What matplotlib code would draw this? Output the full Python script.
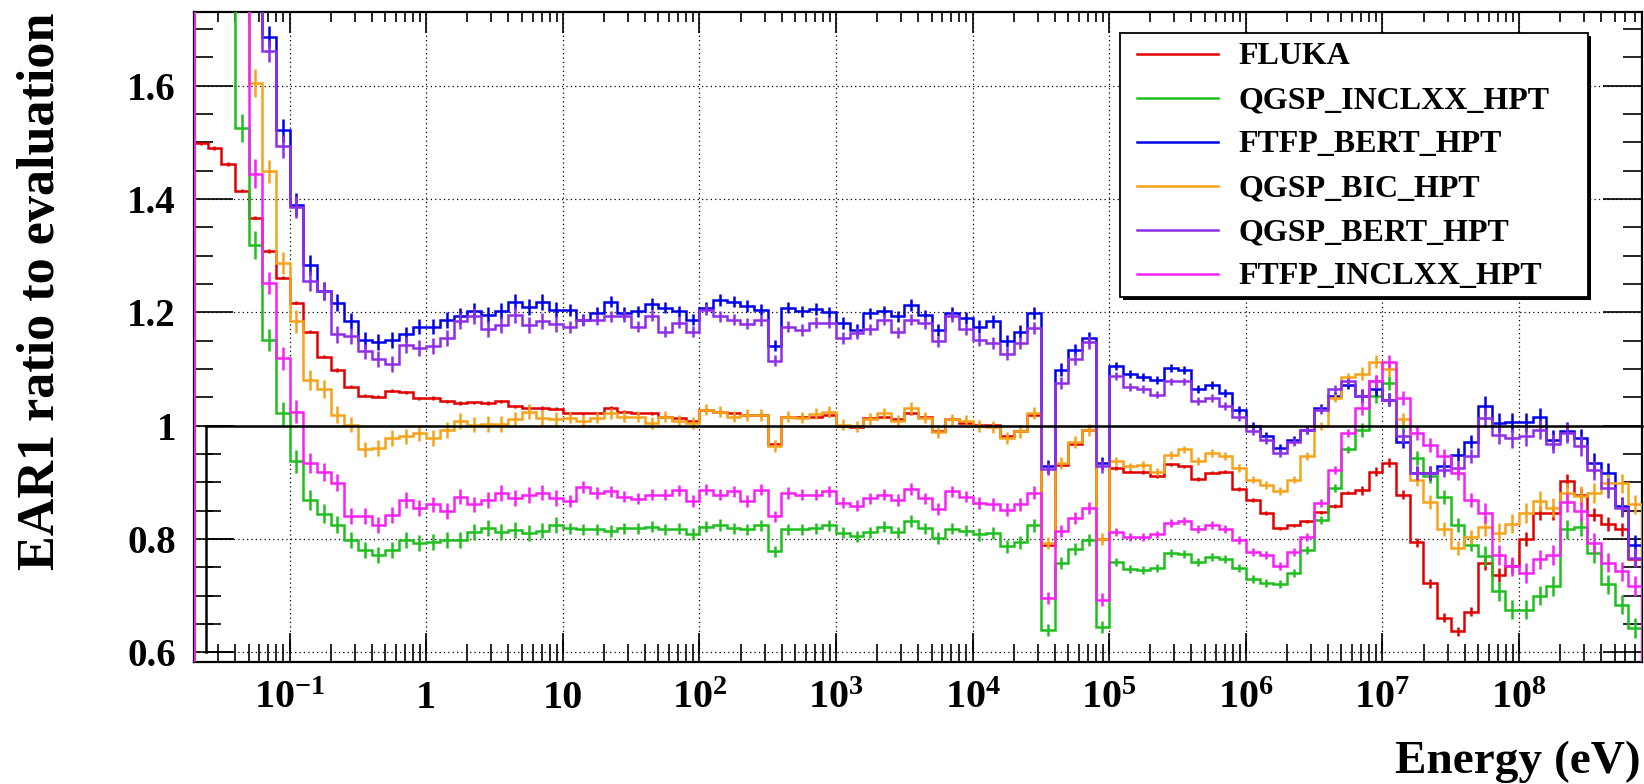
import numpy as np
import matplotlib
matplotlib.use("Agg")
import matplotlib.pyplot as plt
from matplotlib.patches import Rectangle
from matplotlib.lines import Line2D
from matplotlib.ticker import LogLocator, FixedLocator, MultipleLocator, NullFormatter
from matplotlib.transforms import blended_transform_factory

plt.rcParams['font.family'] = ['Liberation Serif', 'DejaVu Serif']
plt.rcParams['font.weight'] = 'bold'
plt.rcParams['mathtext.fontset'] = 'custom'
plt.rcParams['mathtext.rm'] = 'Liberation Serif:bold'
plt.rcParams['mathtext.it'] = 'Liberation Serif:bold'
plt.rcParams['mathtext.bf'] = 'Liberation Serif:bold'

# ---------------- data ----------------
LOG_E_MIN = -1.7          # lower edge of first bin (log10 eV)
BINS_PER_DECADE = 10
N_BINS = 106

SERIES_NAMES = ["FLUKA", "QGSP_INCLXX_HPT", "FTFP_BERT_HPT",
                "QGSP_BIC_HPT", "QGSP_BERT_HPT", "FTFP_INCLXX_HPT"]
SERIES_COLORS = ["#e00000", "#1fbf1f", "#0000e6", "#f7a21b", "#8f2ee8", "#f521f5"]

fluka = [1.498, 1.49, 1.462, 1.415, 1.367, 1.308, 1.261, 1.217, 1.166,
         1.122, 1.098, 1.069, 1.053, 1.051, 1.062, 1.059, 1.048, 1.049, 1.043,
         1.04, 1.041, 1.04, 1.043, 1.034, 1.031, 1.031, 1.03, 1.022,
         1.022, 1.022, 1.031, 1.025, 1.022, 1.022, 1.016, 1.014, 1.009, 1.028,
         1.025, 1.022, 1.019, 1.019, 0.968, 1.016, 1.016, 1.016, 1.019, 0.999,
         0.998, 1.014, 1.016, 1.011, 1.022, 1.015, 0.99, 1.012, 1.005, 1.002,
         1.002, 0.981, 0.99, 1.018, 0.79, 0.93, 0.968, 0.993, 0.80, 0.925,
         0.919, 0.918, 0.911,
         0.932, 0.928, 0.906, 0.917, 0.919, 0.888, 0.869, 0.846, 0.819, 0.824, 0.831, 0.847, 0.858,
         0.882, 0.886, 0.919, 0.935, 0.878, 0.794, 0.722, 0.661, 0.637, 0.672,
         0.758, 0.737, 0.752, 0.8, 0.846, 0.846, 0.902, 0.878, 0.843, 0.827, 0.817, 0.764]

qgsp_inclxx = [1.9, 1.9, 1.9, 1.525, 1.319, 1.151, 1.022, 0.937, 0.869,
               0.845, 0.825, 0.798, 0.781, 0.772, 0.781, 0.798, 0.793, 0.794, 0.798,
               0.799, 0.813, 0.819, 0.812, 0.816, 0.81, 0.815, 0.824, 0.819,
               0.817, 0.817, 0.814, 0.819, 0.819, 0.822, 0.817, 0.818, 0.809, 0.822,
               0.825, 0.819, 0.817, 0.824, 0.778, 0.817, 0.817, 0.819, 0.824, 0.811,
               0.805, 0.812, 0.822, 0.812, 0.832, 0.819, 0.802, 0.818, 0.815, 0.808,
               0.811, 0.787, 0.794, 0.824, 0.639, 0.758, 0.782, 0.798, 0.645, 0.759,
               0.747, 0.745, 0.749,
               0.775, 0.774, 0.759, 0.768, 0.765, 0.749, 0.73, 0.722, 0.72, 0.74, 0.78, 0.834, 0.89,
               0.958, 0.992, 1.052, 1.075, 1.0, 0.943, 0.911, 0.874, 0.825, 0.79,
               0.77, 0.708, 0.675, 0.675, 0.7, 0.717, 0.817, 0.822, 0.775, 0.72, 0.684, 0.643]

ftfp_bert = [1.9, 1.9, 1.9, 1.9, 1.9, 1.686, 1.521, 1.39, 1.284,
             1.237, 1.217, 1.184, 1.151, 1.147, 1.151, 1.161, 1.175, 1.175, 1.186,
             1.193, 1.202, 1.196, 1.203, 1.218, 1.209, 1.219, 1.205, 1.204,
             1.187, 1.199, 1.219, 1.199, 1.202, 1.215, 1.208, 1.202, 1.187, 1.208,
             1.222, 1.219, 1.211, 1.205, 1.141, 1.208, 1.202, 1.206, 1.2, 1.181,
             1.169, 1.198, 1.202, 1.193, 1.213, 1.195, 1.169, 1.199, 1.19, 1.175,
             1.184, 1.149, 1.166, 1.199, 0.928, 1.099, 1.134, 1.155, 0.934, 1.106,
             1.092, 1.086, 1.081,
             1.102, 1.099, 1.064, 1.071, 1.058, 1.028, 0.999, 0.981, 0.961, 0.974, 0.993, 1.031, 1.052,
             1.072, 1.052, 1.065, 1.046, 0.972, 0.917, 0.917, 0.928, 0.949, 0.972,
             1.035, 1.005, 1.006, 1.006, 1.015, 0.975, 0.99, 0.978, 0.934, 0.917, 0.858, 0.79]

qgsp_bic = [1.9, 1.9, 1.9, 1.9, 1.605, 1.449, 1.287, 1.184, 1.081,
            1.064, 1.019, 1.002, 0.958, 0.961, 0.978, 0.981, 0.987, 0.978, 0.993,
            1.008, 1.002, 1.003, 1.003, 1.011, 1.025, 1.014, 1.011, 1.014,
            1.008, 1.014, 1.022, 1.016, 1.016, 1.005, 1.016, 1.009, 1.005, 1.028,
            1.025, 1.016, 1.019, 1.019, 0.964, 1.016, 1.014, 1.021, 1.025, 1.002,
            0.999, 1.012, 1.022, 1.008, 1.031, 1.014, 0.988, 1.011, 1.008, 0.999,
            0.998, 0.978, 0.99, 1.022, 0.793, 0.934, 0.971, 0.992, 0.80, 0.937,
            0.928, 0.931, 0.919,
            0.949, 0.958, 0.937, 0.951, 0.947, 0.925, 0.905, 0.896, 0.884, 0.905, 0.947, 0.999, 1.049,
            1.086, 1.092, 1.113, 1.10, 1.011, 0.905, 0.865, 0.818, 0.784, 0.804,
            0.822, 0.811, 0.827, 0.846, 0.867, 0.855, 0.882, 0.876, 0.881, 0.898, 0.898, 0.861]

qgsp_bert = [1.9, 1.9, 1.9, 1.9, 1.9, 1.661, 1.493, 1.386, 1.255,
             1.237, 1.161, 1.159, 1.131, 1.118, 1.109, 1.143, 1.137, 1.14, 1.155,
             1.184, 1.194, 1.171, 1.178, 1.196, 1.178, 1.184, 1.18, 1.174,
             1.186, 1.187, 1.193, 1.193, 1.175, 1.194, 1.166, 1.182, 1.166, 1.205,
             1.193, 1.187, 1.18, 1.186, 1.115, 1.175, 1.169, 1.182, 1.182, 1.155,
             1.163, 1.17, 1.187, 1.165, 1.187, 1.181, 1.149, 1.193, 1.17, 1.152,
             1.146, 1.127, 1.146, 1.172, 0.924, 1.075, 1.118, 1.147, 0.928, 1.087,
             1.068, 1.064, 1.055,
             1.078, 1.078, 1.043, 1.049, 1.035, 1.016, 0.99, 0.975, 0.951, 0.972, 0.992, 1.028, 1.065,
             1.078, 1.052, 1.078, 1.046, 0.982, 0.917, 0.917, 0.922, 0.925, 0.946,
             1.014, 0.984, 0.978, 0.982, 0.993, 0.968, 0.987, 0.964, 0.921, 0.89, 0.855, 0.767]

ftfp_inclxx = [1.9, 1.9, 1.9, 1.9, 1.445, 1.252, 1.119, 1.025, 0.934,
               0.919, 0.899, 0.84, 0.84, 0.825, 0.843, 0.869, 0.855, 0.861, 0.849,
               0.875, 0.861, 0.869, 0.881, 0.872, 0.878, 0.882, 0.872, 0.867,
               0.892, 0.881, 0.884, 0.875, 0.871, 0.878, 0.878, 0.886, 0.867, 0.887,
               0.878, 0.884, 0.867, 0.887, 0.84, 0.881, 0.878, 0.878, 0.884, 0.864,
               0.859, 0.872, 0.878, 0.869, 0.888, 0.872, 0.853, 0.884, 0.875, 0.864,
               0.861, 0.852, 0.861, 0.882, 0.696, 0.814, 0.837, 0.855, 0.693, 0.812,
               0.804, 0.804, 0.808,
               0.829, 0.831, 0.817, 0.825, 0.818, 0.798, 0.777, 0.772, 0.753, 0.777, 0.804, 0.864, 0.922,
               0.987, 1.031, 1.078, 1.113, 1.049, 0.987, 0.966, 0.946, 0.917, 0.869,
               0.846, 0.772, 0.752, 0.74, 0.764, 0.772, 0.865, 0.849, 0.793, 0.758, 0.743, 0.717]

# statistical error half-widths
err_geant4 = ([0.025] * 5 + [0.02, 0.02, 0.02, 0.018, 0.016, 0.015] + [0.014] * 16 +
              [0.01] * 30 + [0.011] * 10 + [0.007] * 18 + [0.012] * 9 + [0.017] * 12)
err_fluka = [0.003] * 85 + [0.008] * 9 + [0.012] * 12

XTICK_EXP = [-1, 0, 1, 2, 3, 4, 5, 6, 7, 8]
XTICK_LABELS = [r"$10^{-1}$", "1", "10", r"$10^{2}$", r"$10^{3}$", r"$10^{4}$",
                r"$10^{5}$", r"$10^{6}$", r"$10^{7}$", r"$10^{8}$"]
YTICKS = [0.6, 0.8, 1.0, 1.2, 1.4, 1.6]
YTICK_LABELS = ["0.6", "0.8", "1", "1.2", "1.4", "1.6"]
Y_RANGE = (0.583, 1.73)

# ---------------- figure ----------------
W, H = 1644, 784
fig = plt.figure(figsize=(W / 100, H / 100), dpi=100)
fig.patch.set_facecolor("white")


def fx(px):
    return px / W


def fy(py):
    return 1 - py / H


AX_L, AX_R, AX_T, AX_B = 194, 1642, 12, 662
ax = fig.add_axes([fx(AX_L), fy(AX_B), (AX_R - AX_L) / W, (AX_B - AX_T) / H])
ax.set_xscale("log")
edges = 10.0 ** (LOG_E_MIN + np.arange(N_BINS + 1) / BINS_PER_DECADE)
centers = np.sqrt(edges[:-1] * edges[1:])
ax.set_xlim(edges[0], edges[-1])
ax.set_ylim(*Y_RANGE)
ax.set_axisbelow(True)

all_series = [fluka, qgsp_inclxx, ftfp_bert, qgsp_bic, qgsp_bert, ftfp_inclxx]
all_errs = [err_fluka] + [err_geant4] * 5
LW = 1.8
for i, (vals, col, err) in enumerate(zip(all_series, SERIES_COLORS, all_errs)):
    vals = np.asarray(vals)
    ax.stairs(vals, edges, baseline=0.0, color=col, lw=LW, zorder=3 + i)
    ax.errorbar(centers, vals, yerr=np.asarray(err), fmt="none", ecolor=col,
                elinewidth=LW, capsize=0, zorder=3 + i)

# ticks
ax.xaxis.set_major_locator(LogLocator(base=10, numticks=30))
ax.xaxis.set_minor_locator(LogLocator(base=10, subs=np.arange(2, 10), numticks=30))
ax.xaxis.set_major_formatter(NullFormatter())
ax.xaxis.set_minor_formatter(NullFormatter())
ax.yaxis.set_major_locator(FixedLocator(YTICKS))
ax.yaxis.set_minor_locator(MultipleLocator(0.05))
ax.set_yticklabels(YTICK_LABELS, fontsize=28, fontweight="bold")
ax.tick_params(which="both", direction="in", top=True, right=True, width=1.2)
ax.tick_params(axis="x", which="major", length=15)
ax.tick_params(axis="x", which="minor", length=7)
ax.tick_params(axis="y", which="major", length=28, pad=13)
ax.tick_params(axis="y", which="minor", length=13.5)
ax.grid(True, which="major", linestyle=(0, (1, 2.5)), color="black", lw=0.9)
for s in ax.spines.values():
    s.set_linewidth(1.6)

trans = blended_transform_factory(ax.transData, fig.transFigure)
for e, lab in zip(XTICK_EXP, XTICK_LABELS):
    ax.text(10.0 ** e, fy(708), lab, transform=trans, ha="center", va="baseline",
            fontsize=29, fontweight="bold")

# inner frame (drawn from the y=1 level down to 0.6)
IN_L = 206
x_left_in = ax.transData.inverted().transform((IN_L, 100))[0]
yb = ax.transData.transform((1.0, 0.6))[1]
yt = ax.transData.transform((1.0, 1.0))[1]
ax_in = fig.add_axes([IN_L / W, yb / H, (AX_R - IN_L) / W, (yt - yb) / H])
ax_in.patch.set_alpha(0)
ax_in.set_xscale("log")
ax_in.set_xlim(x_left_in, edges[-1])
ax_in.set_ylim(0.6, 1.0)
ax_in.spines["bottom"].set_visible(False)
ax_in.spines["right"].set_visible(False)
ax_in.spines["top"].set_linewidth(1.8)
ax_in.spines["left"].set_linewidth(1.8)
ax_in.xaxis.set_major_locator(LogLocator(base=10, numticks=30))
ax_in.xaxis.set_minor_locator(LogLocator(base=10, subs=np.arange(2, 10), numticks=30))
ax_in.yaxis.set_major_locator(FixedLocator([0.6, 0.8, 1.0]))
ax_in.yaxis.set_minor_locator(MultipleLocator(0.05))
ax_in.tick_params(which="both", direction="in", top=False, right=False,
                  labelbottom=False, labelleft=False, width=1.2)
ax_in.tick_params(axis="x", which="major", length=14)
ax_in.tick_params(axis="x", which="minor", length=6)
ax_in.tick_params(axis="y", which="major", length=20)
ax_in.tick_params(axis="y", which="minor", length=11)

# axis titles
fig.text(fx(1641), fy(773), "Energy (eV)", ha="right", va="baseline",
         fontsize=34, fontweight="bold")
fig.text(fx(41), fy(13), "EAR1 ratio to evaluation", rotation=90, ha="center",
         va="top", fontsize=37.5, fontweight="bold")

# legend box
LG_L, LG_R, LG_T, LG_B = 1120, 1588, 33, 297
fig.add_artist(Rectangle((fx(LG_L + 3), fy(LG_B + 3)), (LG_R - LG_L) / W, (LG_B - LG_T) / H,
                         transform=fig.transFigure, facecolor="black", edgecolor="black",
                         lw=0, zorder=20))
fig.add_artist(Rectangle((fx(LG_L), fy(LG_B)), (LG_R - LG_L) / W, (LG_B - LG_T) / H,
                         transform=fig.transFigure, facecolor="white", edgecolor="black",
                         lw=1.3, zorder=21))
for i, (name, col) in enumerate(zip(SERIES_NAMES, SERIES_COLORS)):
    yc = 54 + 44 * i
    fig.add_artist(Line2D([fx(1137), fx(1218)], [fy(yc), fy(yc)], color=col, lw=1.8,
                          transform=fig.transFigure, zorder=22))
    fig.text(fx(1238), fy(yc + 10.5), name, ha="left", va="baseline", fontsize=23,
             fontweight="bold", zorder=22)

fig.savefig("out.png", dpi=100)
